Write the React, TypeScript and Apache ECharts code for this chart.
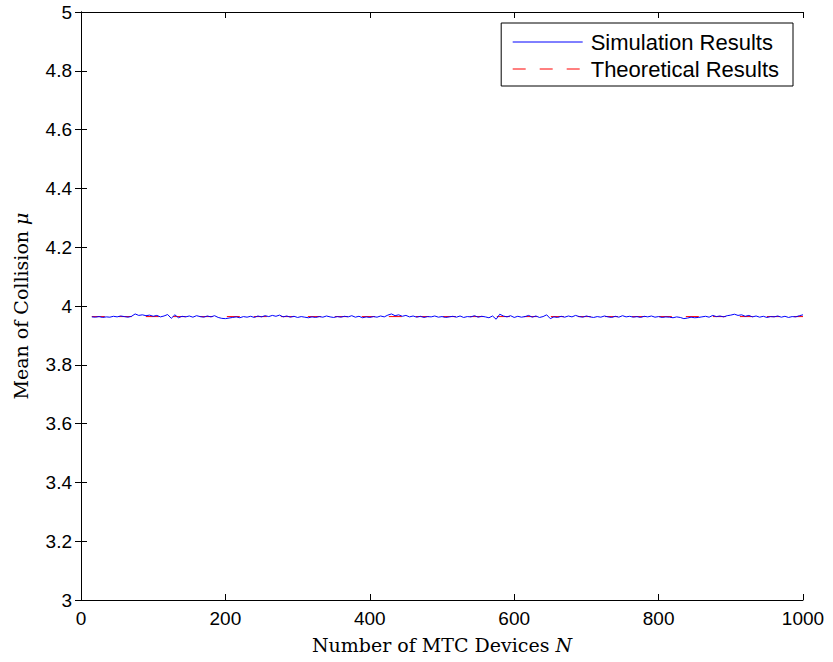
import React, { useEffect, useRef } from "react";
import * as echarts from "echarts";

// Number of MTC devices N (x values of the simulation curve)
const simN: number[] = [];
for (let n = 15; n <= 1000; n += 5) simN.push(n);

// Simulated mean of collision
const simValues: number[] = [
  3.963, 3.962, 3.964, 3.961, 3.963, 3.962, 3.965, 3.963, 3.966, 3.964,
  3.962, 3.965, 3.973, 3.968, 3.970, 3.967, 3.969, 3.965, 3.968, 3.963,
  3.966, 3.971, 3.958, 3.970, 3.960, 3.965, 3.963, 3.966, 3.962, 3.967,
  3.964, 3.962, 3.966, 3.963, 3.967, 3.961, 3.958, 3.957, 3.959, 3.961,
  3.963, 3.960, 3.964, 3.962, 3.965, 3.961, 3.966, 3.963, 3.967, 3.964,
  3.968, 3.965, 3.969, 3.963, 3.966, 3.962, 3.965, 3.961, 3.964, 3.962,
  3.960, 3.963, 3.961, 3.964, 3.962, 3.966, 3.963, 3.961, 3.964, 3.962,
  3.965, 3.963, 3.967, 3.962, 3.965, 3.960, 3.963, 3.961, 3.964, 3.962,
  3.966, 3.963, 3.969, 3.973, 3.967, 3.970, 3.965, 3.968, 3.963, 3.966,
  3.962, 3.965, 3.961, 3.964, 3.963, 3.966, 3.962, 3.964, 3.961, 3.963,
  3.965, 3.962, 3.966, 3.961, 3.964, 3.963, 3.967, 3.962, 3.965, 3.963,
  3.960, 3.966, 3.955, 3.972, 3.966, 3.963, 3.967, 3.961, 3.965, 3.962,
  3.964, 3.968, 3.962, 3.966, 3.961, 3.964, 3.970, 3.957, 3.963, 3.961,
  3.965, 3.962, 3.966, 3.963, 3.968, 3.964, 3.962, 3.966, 3.963, 3.961,
  3.964, 3.962, 3.966, 3.963, 3.961, 3.965, 3.962, 3.967, 3.963, 3.965,
  3.962, 3.964, 3.961, 3.965, 3.963, 3.966, 3.962, 3.964, 3.961, 3.963,
  3.962, 3.960, 3.963, 3.961, 3.957, 3.959, 3.962, 3.960, 3.961, 3.963,
  3.965, 3.962, 3.968, 3.964, 3.966, 3.963, 3.967, 3.969, 3.972, 3.968,
  3.970, 3.965, 3.968, 3.963, 3.966, 3.962, 3.965, 3.961, 3.964, 3.963,
  3.966, 3.962, 3.965, 3.961, 3.964, 3.963, 3.967, 3.970,
];

// Theoretical mean of collision
const theoryN: number[] = [15, 1000];
const theoryValues: number[] = [3.964, 3.964];

const seriesNames = ["Simulation Results", "Theoretical Results"];
const xTicks = { min: 0, max: 1000, interval: 200 };
const yTicks = { min: 3, max: 5, interval: 0.2 };

const SANS = "'Liberation Sans', Arial, Helvetica, sans-serif";
const SERIF = "'DejaVu Serif', 'Liberation Serif', serif";

export default function App() {
  const ref = useRef<HTMLDivElement>(null);

  useEffect(() => {
    document.body.style.margin = "0";
    if (!ref.current) return;
    const chart = echarts.init(ref.current, null, { renderer: "svg" });

    const axisLine = { show: true, lineStyle: { color: "#000", width: 1 } };
    const axisTick = { show: true, inside: true, length: 6, lineStyle: { color: "#000", width: 1 } };
    const nameStyle = {
      fontFamily: SERIF,
      fontSize: 19,
      color: "#000",
      rich: { i: { fontFamily: SERIF, fontSize: 19, fontStyle: "italic", color: "#000" } },
    };

    chart.setOption({
      animation: false,
      backgroundColor: "#fff",
      grid: { left: 81, right: 30, top: 12, bottom: 62, containLabel: false },
      legend: {
        orient: "vertical",
        right: 40,
        top: 23,
        data: seriesNames,
        itemWidth: 70,
        itemHeight: 14,
        itemGap: 5,
        padding: [8, 14, 6, 11],
        borderColor: "#000",
        borderWidth: 1,
        borderRadius: 0,
        backgroundColor: "#fff",
        itemStyle: { opacity: 0 },
        lineStyle: { width: 1 },
        textStyle: { fontFamily: SANS, fontSize: 22, color: "#000", padding: [0, 0, 0, 3] },
      },
      xAxis: [
        {
          type: "value",
          min: xTicks.min,
          max: xTicks.max,
          interval: xTicks.interval,
          position: "bottom",
          axisLine,
          axisTick,
          splitLine: { show: false },
          axisLabel: {
            fontFamily: SANS,
            fontSize: 19,
            color: "#000",
            margin: 9,
            formatter: (v: number) => String(v),
          },
          name: "Number of MTC Devices {i|N}",
          nameLocation: "middle",
          nameGap: 35,
          nameTextStyle: nameStyle,
        },
        {
          type: "value",
          min: xTicks.min,
          max: xTicks.max,
          interval: xTicks.interval,
          position: "top",
          axisLine,
          axisTick,
          splitLine: { show: false },
          axisLabel: { show: false },
        },
      ],
      yAxis: [
        {
          type: "value",
          min: yTicks.min,
          max: yTicks.max,
          interval: yTicks.interval,
          position: "left",
          axisLine,
          axisTick,
          splitLine: { show: false },
          axisLabel: {
            fontFamily: SANS,
            fontSize: 19,
            color: "#000",
            margin: 9,
            formatter: (v: number) => String(parseFloat(v.toFixed(1))),
          },
          name: "Mean of Collision {i|μ}",
          nameLocation: "middle",
          nameGap: 51,
          nameTextStyle: nameStyle,
        },
        {
          type: "value",
          min: yTicks.min,
          max: yTicks.max,
          interval: yTicks.interval,
          position: "right",
          axisLine,
          axisTick,
          splitLine: { show: false },
          axisLabel: { show: false },
        },
      ],
      series: [
        {
          name: seriesNames[0],
          type: "line",
          data: simN.map((n, i) => [n, simValues[i]]),
          symbol: "none",
          showSymbol: false,
          z: 3,
          lineStyle: { color: "#0000ff", width: 1 },
          itemStyle: { color: "#0000ff" },
        },
        {
          name: seriesNames[1],
          type: "line",
          data: theoryN.map((n, i) => [n, theoryValues[i]]),
          symbol: "none",
          showSymbol: false,
          z: 2,
          lineStyle: { color: "#ff0000", width: 1, type: [13, 14] },
          itemStyle: { color: "#ff0000" },
        },
      ],
    });

    return () => chart.dispose();
  }, []);

  return <div ref={ref} style={{ width: 833, height: 662 }} />;
}
